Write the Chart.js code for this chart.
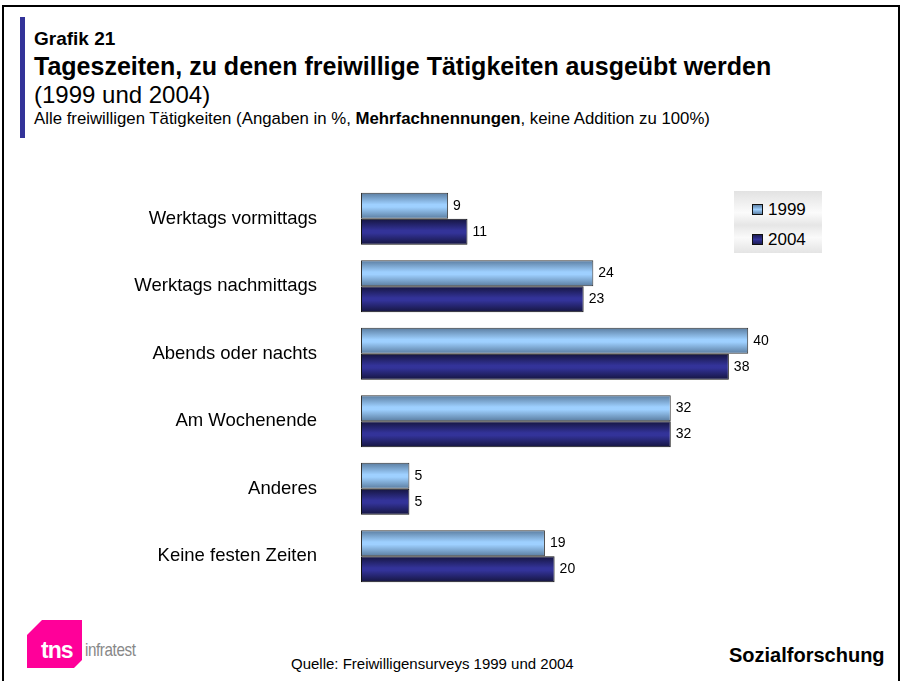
<!DOCTYPE html>
<html>
<head>
<meta charset="utf-8">
<script src="https://cdn.jsdelivr.net/npm/chart.js@4.4.0/dist/chart.umd.min.js"></script>
<style>
  body { margin: 0; background: #fff; font-family: "Liberation Sans", Arial, sans-serif; }
  #page { position: relative; width: 902px; height: 681px; overflow: hidden; }
  #frame { position: absolute; left: 2px; top: 5px; width: 894px; height: 700px; border: 2px solid #000; }
  #accent { position: absolute; left: 20px; top: 17px; width: 5px; height: 121px; background: #333399; }
  .t { position: absolute; left: 34px; white-space: nowrap; color: #000; }
  #wrap { position: absolute; left: 0; top: 170px; width: 902px; height: 440px; }
  #legend { position: absolute; left: 734px; top: 191px; width: 88px; height: 62px;
    background: linear-gradient(#e2e2e2, #fbfbfb 35%, #e6e6e6 55%, #fafafa 75%, #e4e4e4); }
  .li { position: absolute; left: 18px; font-size: 17px; line-height: 20px; }
  .li span { display: inline-block; width: 9px; height: 9px; border: 1px solid #111; margin-right: 5px; vertical-align: 0px; }
  #logo { position: absolute; left: 27px; top: 620px; width: 55px; height: 48px; background: #ff0099;
    clip-path: polygon(15px 0, 100% 0, 100% 40px, 47px 100%, 0 100%, 0 15px); }
  #logo b { position: absolute; left: 14px; top: 17px; color: #fff; font-size: 23px; font-weight: bold; letter-spacing: -1px; }
</style>
</head>
<body>
<div id="page">
  <div id="frame"></div>
  <div id="accent"></div>
  <div class="t" style="top:28px;font-size:19px;font-weight:bold">Grafik 21</div>
  <div class="t" style="top:52px;font-size:25px;font-weight:bold">Tageszeiten, zu denen freiwillige Tätigkeiten ausgeübt werden</div>
  <div class="t" style="top:81px;font-size:24px">(1999 und 2004)</div>
  <div class="t" style="top:109px;font-size:16.8px">Alle freiwilligen Tätigkeiten (Angaben in %, <b>Mehrfachnennungen</b>, keine Addition zu 100%)</div>
  <div id="wrap"><canvas id="chart"></canvas></div>
  <div id="legend">
    <div class="li" style="top:9px"><span style="background:linear-gradient(#5f82a6,#9fd0ff 50%,#5f82a6)"></span>1999</div>
    <div class="li" style="top:39px"><span style="background:linear-gradient(#1c1c55,#333399 50%,#1c1c55)"></span>2004</div>
  </div>
  <div id="logo"><b>tns</b></div>
  <div style="position:absolute;left:85px;top:639px;font-size:19px;color:#888;letter-spacing:-0.5px;transform:scaleX(0.8);transform-origin:left">infratest</div>
  <div style="position:absolute;left:291px;top:655px;font-size:15px">Quelle: Freiwilligensurveys 1999 und 2004</div>
  <div style="position:absolute;left:729px;top:644px;font-size:20px;font-weight:bold">Sozialforschung</div>
</div>
<script>
const categories = ['Werktags vormittags', 'Werktags nachmittags', 'Abends oder nachts', 'Am Wochenende', 'Anderes', 'Keine festen Zeiten'];
const values1999 = [9, 24, 40, 32, 5, 19];
const values2004 = [11, 23, 38, 32, 5, 20];
const seriesNames = ['1999', '2004'];

const catPct = 0.77;

// gradient per bar, computed from the y scale (bars not placed yet when options resolve)
function barGradient(edge, mid, dsIndex) {
  return function (c) {
    const chart = c.chart;
    const y = chart.scales.y;
    if (!y || !chart.chartArea) return mid;
    const band = y.height / categories.length;
    const th = band * catPct / 2;
    const center = y.getPixelForValue(c.dataIndex);
    const top = dsIndex === 0 ? center - th : center;
    const g = chart.ctx.createLinearGradient(0, top, 0, top + th);
    g.addColorStop(0, edge);
    g.addColorStop(0.45, mid);
    g.addColorStop(0.55, mid);
    g.addColorStop(1, edge);
    return g;
  };
}

const valueLabels = {
  id: 'valueLabels',
  afterDatasetsDraw(chart) {
    const ctx = chart.ctx;
    ctx.save();
    ctx.font = '14px "Liberation Sans", Arial, sans-serif';
    ctx.fillStyle = '#000';
    ctx.textBaseline = 'middle';
    chart.data.datasets.forEach((ds, i) => {
      chart.getDatasetMeta(i).data.forEach((bar, j) => {
        ctx.fillText(ds.data[j], bar.x + 5, bar.y);
      });
    });
    ctx.restore();
  }
};

new Chart(document.getElementById('chart'), {
  type: 'bar',
  data: {
    labels: categories,
    datasets: [{
      label: seriesNames[0],
      data: values1999,
      backgroundColor: barGradient('#5a7c9f', '#9ed0ff', 0),
      borderColor: '#333',
      borderWidth: 1,
      borderSkipped: false
    }, {
      label: seriesNames[1],
      data: values2004,
      backgroundColor: barGradient('#15153f', '#333399', 1),
      borderColor: '#111',
      borderWidth: 1,
      borderSkipped: false
    }]
  },
  options: {
    indexAxis: 'y',
    responsive: true,
    maintainAspectRatio: false,
    animation: false,
    layout: { padding: { left: 0, right: 57, top: 15, bottom: 20 } },
    datasets: { bar: { categoryPercentage: catPct, barPercentage: 1 } },
    plugins: { legend: { display: false }, tooltip: { enabled: false } },
    scales: {
      x: { display: false, min: 0, max: 50 },
      y: {
        grid: { display: false, drawTicks: false },
        border: { display: false },
        ticks: { color: '#000', padding: 44, font: { size: 18.5, family: '"Liberation Sans", Arial, sans-serif' } },
        afterFit(scale) {
          scale.width = 361;
          scale.paddingTop = 0;
          scale.paddingBottom = 0;
        }
      }
    }
  },
  plugins: [valueLabels]
});
</script>
</body>
</html>
